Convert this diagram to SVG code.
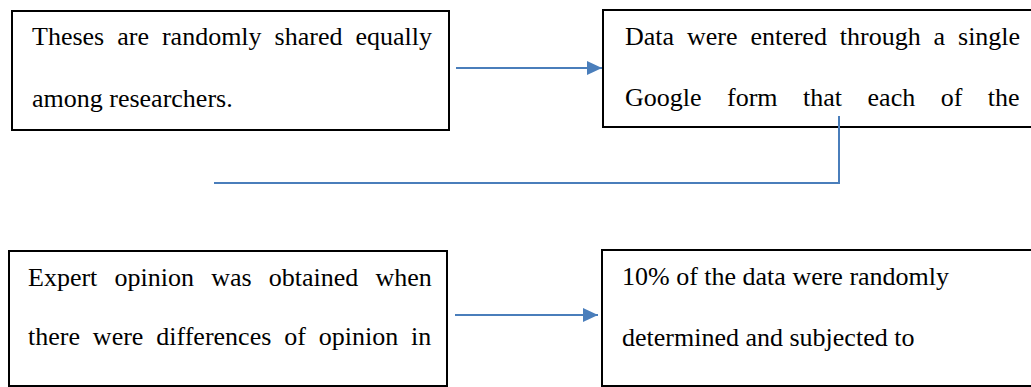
<svg xmlns="http://www.w3.org/2000/svg" width="1031" height="387" viewBox="0 0 1031 387">
<style>
.box{fill:#fff;stroke:#000;stroke-width:2}
.t{font-family:"Liberation Serif","Times New Roman",serif;font-size:26px;fill:#000}
.c{fill:none;stroke:#4a7ebb;stroke-width:2}
</style>
<defs>
<marker id="ah" markerWidth="16" markerHeight="14" refX="15" refY="7" orient="auto" markerUnits="userSpaceOnUse">
<path d="M0,0 L15,7 L0,14 Z" fill="#4a7ebb"/>
</marker>
</defs>
<g id="n1">
<rect class="box" x="12" y="11" width="437" height="119"/>
<text class="t" x="32" y="45" word-spacing="6.5">Theses are randomly shared equally</text>
<text class="t" x="32" y="107">among researchers.</text>
</g>
<g id="n2">
<rect class="box" x="603" y="10" width="440" height="117"/>
<text class="t" x="625" y="45" word-spacing="6.4">Data were entered through a single</text>
<text class="t" x="625" y="106" word-spacing="19">Google form that each of the</text>
</g>
<g id="n3">
<rect class="box" x="9" y="251" width="438" height="135"/>
<text class="t" x="28" y="286" word-spacing="10.7">Expert opinion was obtained when</text>
<text class="t" x="28" y="345" word-spacing="6.4">there were differences of opinion in</text>
</g>
<g id="n4">
<rect class="box" x="602" y="250" width="440" height="136"/>
<text class="t" x="622" y="285">10% of the data were randomly</text>
<text class="t" x="622" y="346">determined and subjected to</text>
</g>
<g id="connectors">
<path class="c" d="M456,68 H602" marker-end="url(#ah)"/>
<path class="c" d="M839,116 V183 H214"/>
<path class="c" d="M455,315 H598" marker-end="url(#ah)"/>
</g>
</svg>
